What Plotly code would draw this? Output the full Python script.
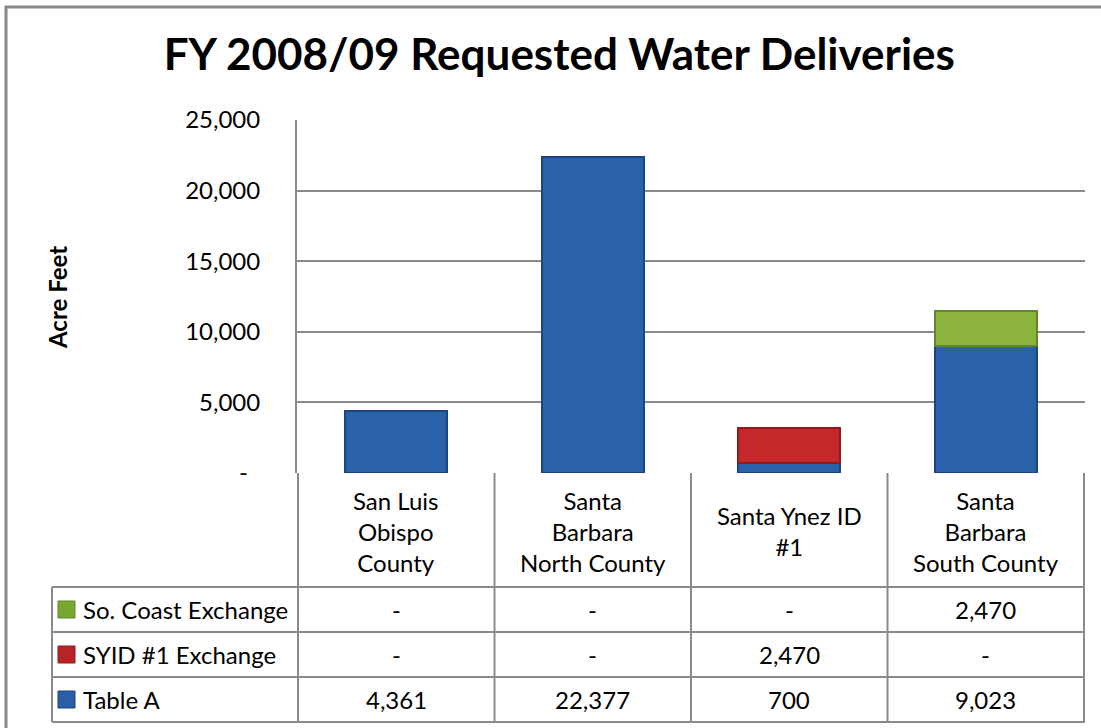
import plotly.graph_objects as go

# data
categories = ["San Luis Obispo County", "Santa Barbara North County",
              "Santa Ynez ID #1", "Santa Barbara South County"]
header_labels = ["San Luis<br>Obispo<br>County", "Santa<br>Barbara<br>North County",
                 "Santa Ynez ID<br>#1", "Santa<br>Barbara<br>South County"]
table_a = [4361, 22377, 700, 9023]
syid_exchange = [0, 0, 2470, 0]
so_coast_exchange = [0, 0, 0, 2470]
y_ticks = [0, 5000, 10000, 15000, 20000, 25000]
y_ticktext = ["-\u00a0\u00a0", "5,000", "10,000", "15,000", "20,000", "25,000"]

series = [
    ("Table A", table_a, "#2a61ab", "#1c4580", "#2a5ea6"),
    ("SYID #1 Exchange", syid_exchange, "#c4282b", "#8e1c1e", "#b82326"),
    ("So. Coast Exchange", so_coast_exchange, "#8cb43c", "#64852a", "#78a832"),
]

W, H = 1101, 728
L, R, T, B = 297, 16, 120, 255
PW, PH = W - L - R, H - T - B
FONT = "Lato"
GRID = "#8a8a8a"


def px(x):
    return (x - L) / PW


def py(y):
    return (H - B - y) / PH


def fmt(v):
    return "-" if v == 0 else f"{v:,}"


fig = go.Figure()
for name, vals, color, edge, _ in series:
    fig.add_trace(go.Bar(
        x=categories, y=[v if v else None for v in vals], name=name,
        marker=dict(color=color, line=dict(color=edge, width=2)),
    ))

shapes = []
annotations = []

# outer chart frame
shapes.append(dict(type="rect", xref="paper", yref="paper",
                   x0=px(6), x1=px(1160), y0=py(780), y1=py(7),
                   line=dict(color="#888888", width=3), layer="below"))

# data table grid
row_lines = [587, 632, 677, 722]
for yy in row_lines:
    shapes.append(dict(type="line", xref="paper", yref="paper",
                       x0=px(52), x1=1, y0=py(yy), y1=py(yy),
                       line=dict(color=GRID, width=2)))
shapes.append(dict(type="line", xref="paper", yref="paper",
                   x0=px(52), x1=px(52), y0=py(587), y1=py(722),
                   line=dict(color=GRID, width=2)))
for i in range(len(categories) + 1):
    shapes.append(dict(type="line", xref="x", yref="paper",
                       x0=i - 0.5, x1=i - 0.5, y0=0, y1=py(722),
                       line=dict(color=GRID, width=2)))

# header row (category names)
for cat, lab in zip(categories, header_labels):
    annotations.append(dict(x=cat, y=py(531), xref="x", yref="paper",
                            text=lab, showarrow=False, yanchor="middle",
                            font=dict(family=FONT, size=24, color="black")))

# value rows, top row is the last series
row_centers = [609.5, 654.5, 699.5]
for (name, vals, color, edge, key), yc in zip(series[::-1], row_centers):
    shapes.append(dict(type="rect", xref="paper", yref="paper",
                       x0=px(58), x1=px(75), y0=py(yc + 8.5), y1=py(yc - 8.5),
                       fillcolor=key, line=dict(color=edge, width=1)))
    annotations.append(dict(x=px(81), y=py(yc), xref="paper", yref="paper",
                            text=name, showarrow=False, xanchor="left", yanchor="middle",
                            font=dict(family=FONT, size=24, color="black")))
    for cat, v in zip(categories, vals):
        annotations.append(dict(x=cat, y=py(yc), xref="x", yref="paper",
                                text=fmt(v), showarrow=False, yanchor="middle",
                                font=dict(family=FONT, size=24, color="black")))

# y axis title
annotations.append(dict(x=px(57), y=py(297), xref="paper", yref="paper",
                        text="<b>Acre Feet</b>", textangle=-90, showarrow=False,
                        xanchor="center", yanchor="middle",
                        font=dict(family=FONT, size=24, color="black")))

fig.update_layout(
    width=W, height=H,
    margin=dict(l=L, r=R, t=T, b=B),
    barmode="stack", bargap=0.48,
    paper_bgcolor="white", plot_bgcolor="white",
    showlegend=False,
    font=dict(family=FONT, color="black"),
    title=dict(text="<b>FY 2008/09 Requested Water Deliveries</b>",
               x=0.508, xanchor="center", y=1 - 55 / H, yanchor="middle",
               font=dict(family=FONT, size=44, color="black")),
    xaxis=dict(showticklabels=False, showgrid=False, ticks="", showline=False),
    yaxis=dict(range=[0, 25000], tickvals=y_ticks, ticktext=y_ticktext,
               showgrid=True, gridcolor=GRID, gridwidth=2,
               showline=True, linecolor=GRID, linewidth=2,
               zeroline=False, ticklabelstandoff=30,
               tickfont=dict(family=FONT, size=24, color="black")),
    shapes=shapes, annotations=annotations,
)

# drop the default page margin so the figure sits at the window's corner
fig.write_html("out.html", config={"displayModeBar": False},
               post_script="document.body.style.margin='0px';")
